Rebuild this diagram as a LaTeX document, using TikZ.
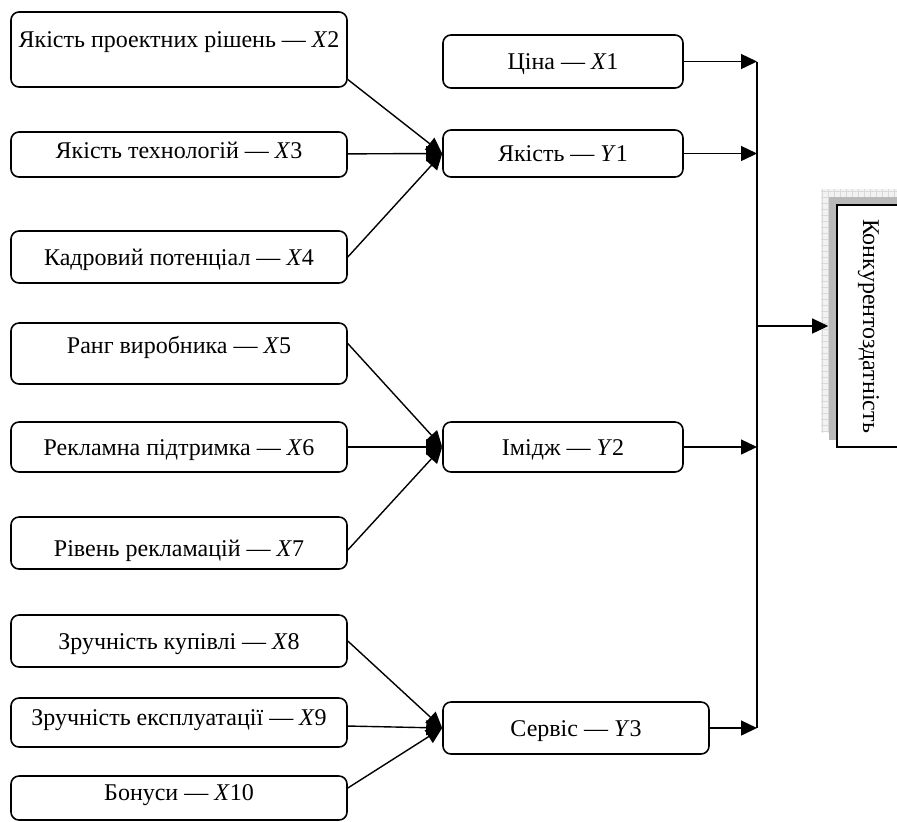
\documentclass[tikz,border=0pt]{standalone}
\usepackage{fontspec}
\setmainfont{Liberation Serif}
\usetikzlibrary{arrows.meta}
\usetikzlibrary{patterns}

\begin{document}
\begin{tikzpicture}[x=0.5pt,y=-0.5pt,
    box/.style={draw,line width=0.8pt,rounded corners=4pt,inner sep=0pt,
      text height=8pt,text depth=0pt,font=\fontsize{12}{14}\selectfont},
    lbox/.style={box,minimum width=168pt},
    mbox/.style={box,minimum width=120pt},
    ln/.style={line width=0.7pt},
    arr/.style={ln,-{Triangle[length=8pt,width=7.5pt]}}]
  \useasboundingbox (0,0) rectangle (897,821);
  % factors
  \node[lbox,minimum height=37.5pt,text depth=10pt] (x2) at (179,49.5) {Якість проектних рішень — \textit{X}2};
  \node[lbox,minimum height=22.5pt,text depth=4pt] (x3) at (179,154.5) {Якість технологій — \textit{X}3};
  \node[lbox,minimum height=26pt] (x4) at (179,257) {Кадровий потенціал — \textit{X}4};
  \node[lbox,minimum height=30.5pt,text depth=8pt] (x5) at (179,353.5) {Ранг виробника — \textit{X}5};
  \node[lbox,minimum height=25pt] (x6) at (179,447) {Рекламна підтримка — \textit{X}6};
  \node[lbox,minimum height=26pt,text height=13pt] (x7) at (179,543) {Рівень рекламацій — \textit{X}7};
  \node[lbox,minimum height=26pt] (x8) at (179,641) {Зручність купівлі — \textit{X}8};
  \node[lbox,minimum height=24.5pt,text depth=5pt] (x9) at (179,722.5) {Зручність експлуатації — \textit{X}9};
  \node[lbox,minimum height=22pt,text depth=6pt] (x10) at (179,798) {Бонуси — \textit{X}10};
  % groups
  \node[mbox,minimum height=26.5pt] (x1) at (563,61.5) {Ціна — \textit{X}1};
  \node[mbox,minimum height=23.5pt] (y1) at (563,153.5) {Якість — \textit{Y}1};
  \node[mbox,minimum height=25pt] (y2) at (563,447) {Імідж — \textit{Y}2};
  \node[box,minimum width=133pt,minimum height=26pt] (y3) at (576,728) {Сервіс — \textit{Y}3};
  % result
  \fill[gray!10] (821,189) rectangle (897,432);
  \fill[pattern=grid,pattern color=gray!30] (821,189) rectangle (897,432);
  \fill[gray!55] (829,197) rectangle (897,440);
  \node[box,rounded corners=0pt,fill=white,rotate=-90,minimum width=121pt,
    minimum height=34pt] (konk) at (871,326) {Конкурентоздатність};

  \draw[arr] ([yshift=-15pt]x2.east) -- (y1.west);
  \draw[arr] (x3) -- (y1.west);
  \draw[arr] (x4.east) -- (y1.west);
  \draw[arr] ([yshift=5pt]x5.east) -- (y2.west);
  \draw[arr] (x6) -- (y2.west);
  \draw[arr] ([yshift=-3.5pt]x7.east) -- (y2.west);
  \draw[arr] (x8.east) -- (y3.west);
  \draw[arr] (x9) -- (y3.west);
  \draw[arr] ([yshift=5pt]x10.east) -- (y3.west);

  \coordinate (bus) at (757,0);
  \draw[arr] (x1) -- (x1 -| bus);
  \draw[arr] (y1) -- (y1 -| bus);
  \draw[arr] (y2) -- (y2 -| bus);
  \draw[arr] (y3) -- (y3 -| bus);
  \draw[ln] (x1 -| bus) -- (y3 -| bus);
  \draw[arr] (bus |- konk) -- ([xshift=-4pt]konk.south);
\end{tikzpicture}
\end{document}
